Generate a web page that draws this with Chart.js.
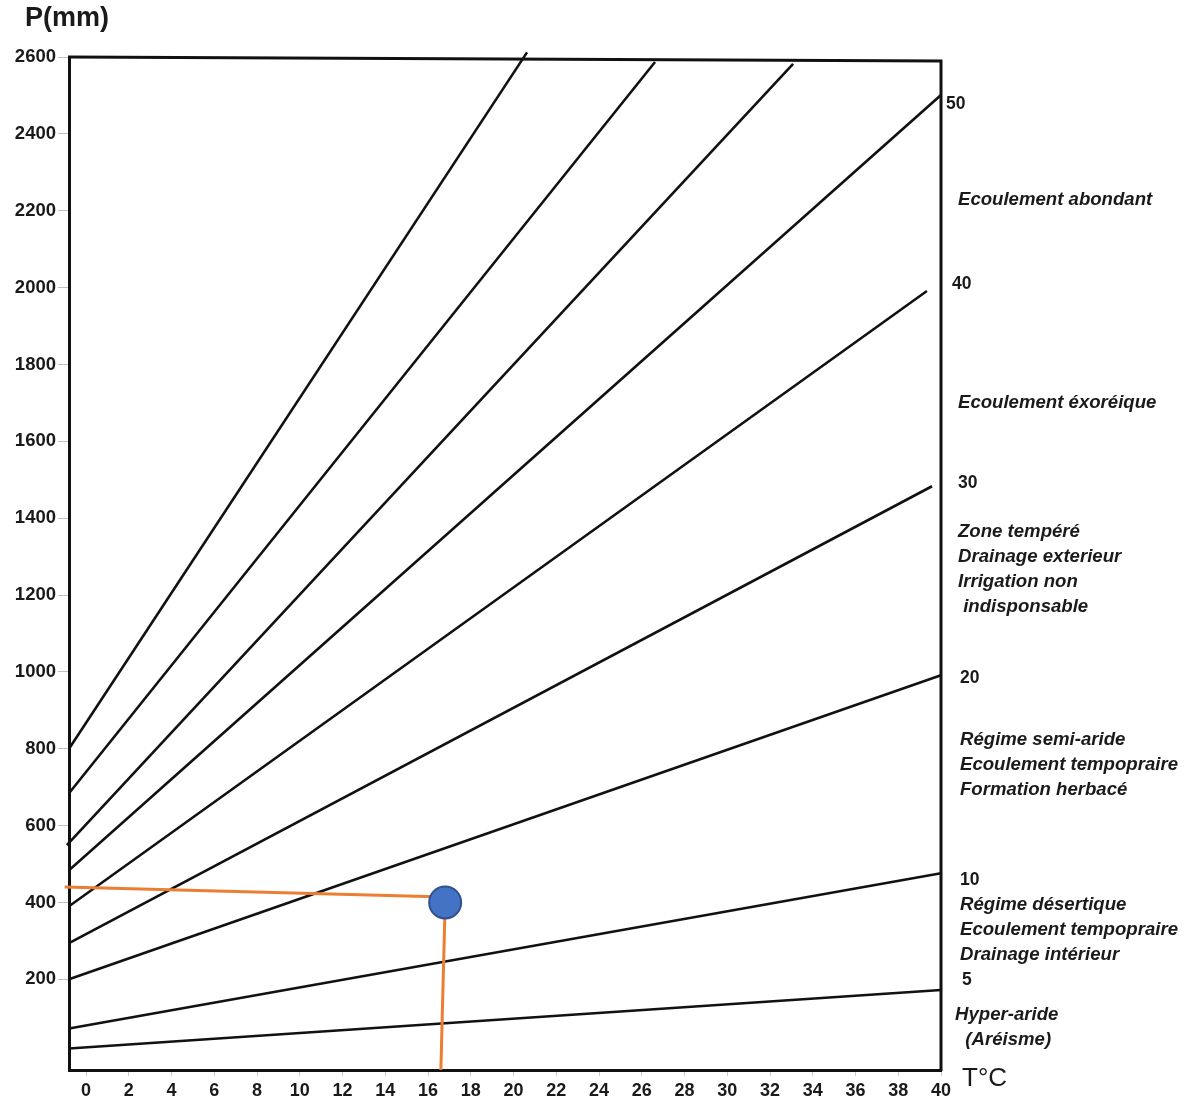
<!DOCTYPE html>
<html lang="fr">
<head>
<meta charset="utf-8">
<title>Abaque de De Martonne</title>
<script src="https://cdn.jsdelivr.net/npm/chart.js@4"></script>
<style>
  html, body { margin: 0; padding: 0; background: #fff; }
  #wrap { width: 1196px; height: 1103px; position: relative; }
</style>
</head>
<body>
<div id="wrap"><canvas id="c"></canvas></div>
<script>
// Axis ticks
const tempTicks = [0, 2, 4, 6, 8, 10, 12, 14, 16, 18, 20, 22, 24, 26, 28, 30, 32, 34, 36, 38, 40];
const precipTicks = [200, 400, 600, 800, 1000, 1200, 1400, 1600, 1800, 2000, 2200, 2400, 2600];

// Iso-index lines: start and end points (T in °C, P in mm)
const lineStartT = [-0.8, -0.8, -0.9, -0.8, -0.8, -0.8, -0.8, -0.8, -0.8];
const lineStartP = [800, 684, 549, 484, 390, 294, 200, 72, 20];
const lineEndT   = [20.63, 26.62, 33.08, 40, 39.34, 39.58, 40, 40, 40];
const lineEndP   = [2612, 2587, 2582, 2501, 1991, 1483, 991, 476, 172];

// Station point and its reading guides
const stationT = [16.8];
const stationP = [400];
const guidePT = [-1.0, 16.8];
const guidePP = [440, 414];
const guideTT = [16.8, 16.6];
const guideTP = [400, -36];

// Index values shown at the right
const indexLabels = ['50', '40', '30', '20', '10', '5'];
// Zone descriptions
const zoneTexts = [
  ['Ecoulement abondant'],
  ['Ecoulement éxoréique'],
  ['Zone tempéré', 'Drainage exterieur', 'Irrigation non', ' indisponsable'],
  ['Régime semi-aride', 'Ecoulement tempopraire', 'Formation herbacé'],
  ['Régime désertique', 'Ecoulement tempopraire', 'Drainage intérieur'],
  ['Hyper-aride', '  (Aréisme)']
];

const FONT = '"Liberation Sans", Arial, Helvetica, sans-serif';
const INK = '#1a1a1a';

// Placement of the right-hand annotations (px from chart area right edge / canvas top)
const indexPos = [[5, 104], [11, 284], [17, 483], [19, 678], [19, 880], [21, 980]];
const zonePos = [[17, 200], [17, 403], [17, 532], [19, 740], [19, 905], [14, 1015]];
const zoneLineGap = 25;

const datasets = [];

datasets.push({
  label: 'station',
  data: stationT.map((t, i) => ({ x: t, y: stationP[i] })),
  pointRadius: 16,
  pointHoverRadius: 16,
  backgroundColor: '#4472C4',
  borderColor: '#2F528F',
  borderWidth: 2,
  showLine: false,
  clip: false,
  order: 0
});

datasets.push({
  label: 'guideP',
  data: guidePT.map((t, i) => ({ x: t, y: guidePP[i] })),
  showLine: true,
  borderColor: '#ED7D31',
  borderWidth: 3,
  pointRadius: 0,
  clip: false,
  order: 1
});
datasets.push({
  label: 'guideT',
  data: guideTT.map((t, i) => ({ x: t, y: guideTP[i] })),
  showLine: true,
  borderColor: '#ED7D31',
  borderWidth: 3,
  pointRadius: 0,
  clip: false,
  order: 1
});

lineStartT.forEach((t0, i) => {
  datasets.push({
    label: 'iso' + i,
    data: [{ x: t0, y: lineStartP[i] }, { x: lineEndT[i], y: lineEndP[i] }],
    showLine: true,
    borderColor: '#111',
    borderWidth: 2.6,
    pointRadius: 0,
    clip: false,
    order: 2
  });
});

// Frame (top and right sides) plus all text outside the axes
const framePlugin = {
  id: 'frame',
  beforeDatasetsDraw(chart) {
    const { ctx, chartArea: a } = chart;
    ctx.save();
    ctx.strokeStyle = '#111';
    ctx.lineWidth = 3;
    ctx.beginPath();
    ctx.moveTo(a.left - 1, a.top);
    ctx.lineTo(a.right, a.top + 4);
    ctx.lineTo(a.right, a.bottom + 1);
    ctx.stroke();
    ctx.restore();
  },
  afterDraw(chart) {
    const { ctx, chartArea: a } = chart;
    ctx.save();
    ctx.fillStyle = INK;
    ctx.textBaseline = 'middle';
    ctx.textAlign = 'left';

    ctx.font = 'bold 27px ' + FONT;
    ctx.fillText('P(mm)', 25, 19);

    ctx.font = '26px ' + FONT;
    ctx.fillText('T°C', a.right + 21, 1079);

    ctx.font = 'bold 17.5px ' + FONT;
    indexLabels.forEach((s, i) => {
      ctx.fillText(s, a.right + indexPos[i][0], indexPos[i][1]);
    });

    ctx.font = 'italic bold 18.6px ' + FONT;
    zoneTexts.forEach((lines, i) => {
      lines.forEach((s, j) => {
        ctx.fillText(s, a.right + zonePos[i][0], zonePos[i][1] + j * zoneLineGap);
      });
    });
    ctx.restore();
  }
};

new Chart(document.getElementById('c'), {
  type: 'scatter',
  data: { datasets },
  options: {
    responsive: true,
    maintainAspectRatio: false,
    animation: false,
    layout: { padding: { top: 57, right: 255, left: 0, bottom: 0 } },
    plugins: { legend: { display: false }, tooltip: { enabled: false }, title: { display: false } },
    scales: {
      x: {
        type: 'linear',
        min: -0.8,
        max: 40,
        afterBuildTicks: s => { s.ticks = tempTicks.map(v => ({ value: v })); },
        afterFit: s => { s.height = 33; },
        ticks: {
          font: { family: FONT, size: 18, weight: 'bold' },
          color: INK,
          padding: 4,
          maxRotation: 0,
          autoSkip: false,
          callback: v => String(v)
        },
        grid: { drawOnChartArea: false, drawTicks: true, tickLength: 6, color: '#c8c8c8' },
        border: { color: '#111', width: 3 }
      },
      y: {
        type: 'linear',
        min: -36,
        max: 2600,
        afterBuildTicks: s => { s.ticks = precipTicks.map(v => ({ value: v })); },
        afterFit: s => { s.width = 69; },
        ticks: {
          font: { family: FONT, size: 18.5, weight: 'bold' },
          color: INK,
          padding: 2,
          autoSkip: false,
          callback: v => String(v)
        },
        grid: { drawOnChartArea: false, drawTicks: true, tickLength: 11, color: '#c0c0c0' },
        border: { color: '#111', width: 3 }
      }
    }
  },
  plugins: [framePlugin]
});
</script>
</body>
</html>
